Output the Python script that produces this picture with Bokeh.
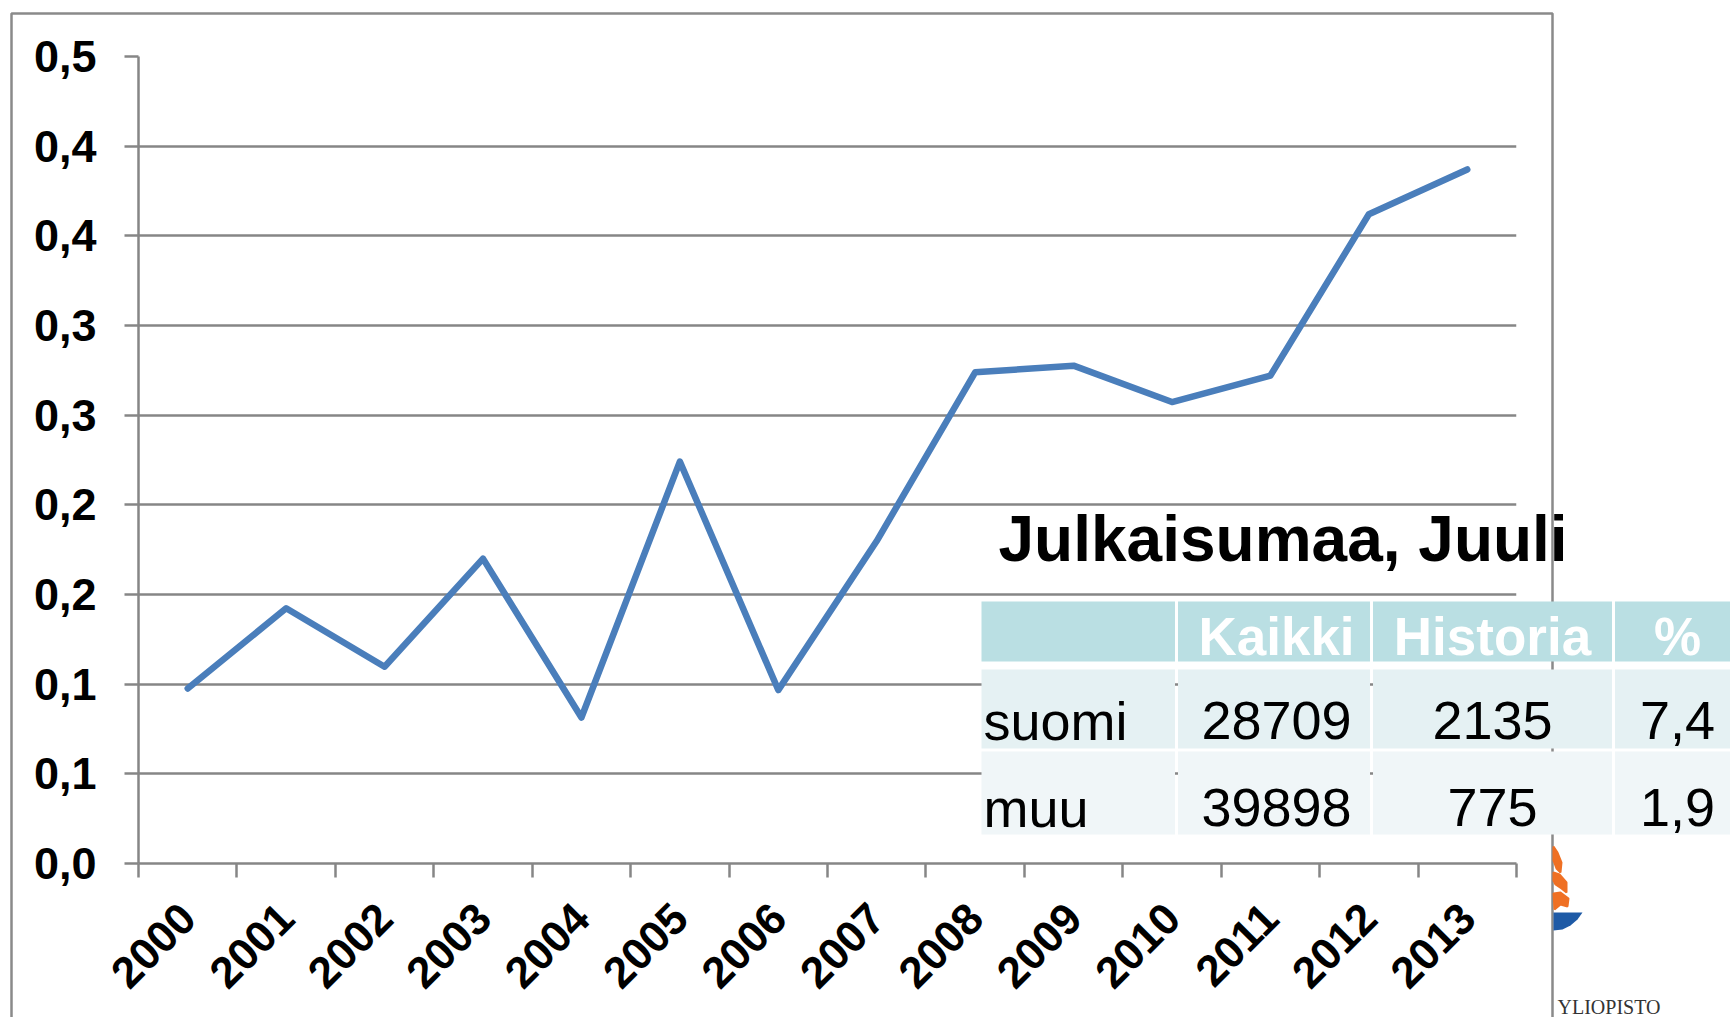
import math
from bokeh.plotting import figure
from bokeh.models import FixedTicker, Range1d
from bokeh.core.properties import value
from bokeh.embed import file_html
from bokeh.resources import INLINE

# ---- chart data ----
years = [2000, 2001, 2002, 2003, 2004, 2005, 2006, 2007, 2008, 2009, 2010, 2011, 2012, 2013]
values = [0.0976, 0.1423, 0.1097, 0.170, 0.0814, 0.2241, 0.0967, 0.1798,
          0.2739, 0.2776, 0.2573, 0.2721, 0.362, 0.387]
y_ticks = [0.0, 0.05, 0.10, 0.15, 0.20, 0.25, 0.30, 0.35, 0.40, 0.45]
y_tick_labels = ["0,0", "0,1", "0,1", "0,2", "0,2", "0,3", "0,3", "0,4", "0,4", "0,5"]
x_tick_labels = [str(y) for y in years]

# ---- overlay table data ----
table_title = "Julkaisumaa, Juuli"
table_header = ["", "Kaikki", "Historia", "%"]
table_rows = ["suomi", "muu"]
table_kaikki = ["28709", "39898"]
table_historia = ["2135", "775"]
table_pct = ["7,4", "1,9"]
logo_text = "YLIOPISTO"

FONT = "Liberation Sans"
GRAY = "#868686"
BLUE = "#4a7ebb"
W, H = 1730, 1017

# ================= main chart =================
p = figure(width=W, height=H, output_backend="svg", toolbar_location=None,
           x_range=Range1d(years[0] - 0.5, years[-1] + 0.5),
           y_range=Range1d(y_ticks[0], y_ticks[-1]),
           min_border_left=138, min_border_top=56, min_border_right=214, min_border_bottom=154)
p.outline_line_color = None
p.background_fill_color = "white"
p.border_fill_color = "white"

p.line(years, values, line_color=BLUE, line_width=6.5, line_cap="round", line_join="round")

p.yaxis.ticker = FixedTicker(ticks=y_ticks)
p.yaxis.major_label_overrides = {t: l for t, l in zip(y_ticks, y_tick_labels)}
p.yaxis.major_label_text_font = FONT
p.yaxis.major_label_text_font_style = "bold"
p.yaxis.major_label_text_font_size = "45px"
p.yaxis.major_label_text_color = "black"
p.yaxis.major_label_standoff = 28
p.yaxis.axis_line_color = GRAY
p.yaxis.axis_line_width = 2.5
p.yaxis.major_tick_line_color = GRAY
p.yaxis.major_tick_line_width = 2.5
p.yaxis.major_tick_out = 14
p.yaxis.major_tick_in = 0
p.yaxis.minor_tick_line_color = None
p.ygrid.ticker = FixedTicker(ticks=y_ticks)
p.ygrid.grid_line_color = GRAY
p.ygrid.grid_line_width = 2.5

bounds = [y - 0.5 for y in years] + [years[-1] + 0.5]
p.xaxis.ticker = FixedTicker(ticks=years, minor_ticks=bounds)
p.xaxis.major_label_overrides = {y: l for y, l in zip(years, x_tick_labels)}
p.xaxis.major_label_orientation = math.pi / 4
p.xaxis.major_label_text_font = FONT
p.xaxis.major_label_text_font_style = "bold"
p.xaxis.major_label_text_font_size = "44px"
p.xaxis.major_label_text_color = "black"
p.xaxis.major_label_standoff = 33
p.xaxis.axis_line_color = GRAY
p.xaxis.axis_line_width = 2.5
p.xaxis.major_tick_line_color = None
p.xaxis.major_tick_out = 14
p.xaxis.major_tick_in = 0
p.xaxis.minor_tick_line_color = GRAY
p.xaxis.minor_tick_line_width = 2.5
p.xaxis.minor_tick_out = 14
p.xaxis.minor_tick_in = 0
p.xgrid.grid_line_color = None

# ================= overlay (pixel space, y down), stacked on top =================
q = figure(width=W, height=H, output_backend="svg", toolbar_location=None,
           x_range=Range1d(0, W), y_range=Range1d(H, 0),
           x_axis_type=None, y_axis_type=None, min_border=0)
q.outline_line_color = None
q.background_fill_alpha = 0
q.border_fill_alpha = 0
q.grid.visible = False
q.styles = {"position": "absolute", "left": "0px", "top": "0px"}

# chart area border
q.line([11, 11, 1552, 1552], [H + 10, 13, 13, H + 10], line_color="#8a8a8a", line_width=2.5)

# table cells
col_edges = [981, 1176, 1371, 1613, 1745]
row_tops = [601, 669, 751]
row_bottoms = [661, 748, 834]
row_colors = ["#badfe3", "#e5f1f3", "#f0f6f8"]
lefts, rights, tops, bottoms, colors = [], [], [], [], []
for rt, rb, c in zip(row_tops, row_bottoms, row_colors):
    for i in range(4):
        lefts.append(col_edges[i] + (0 if i == 0 else 1.5))
        rights.append(col_edges[i + 1] - (1.5 if i < 3 else 0))
        tops.append(rt)
        bottoms.append(rb)
        colors.append(c)
q.quad(left=lefts, right=rights, top=tops, bottom=bottoms, fill_color=colors, line_color=None)

col_centers = [1276, 1492, 1677]
q.text(x=[998], y=[538], text=[table_title], text_font=value(FONT), text_font_style="bold",
       text_font_size="64px", text_color="black", text_baseline="alphabetic", text_align="left")
q.text(x=col_centers, y=[636] * 3, text=table_header[1:], text_font=value(FONT),
       text_font_style="bold", text_font_size="53px", text_color="white",
       text_baseline="alphabetic", text_align="center")
row_base = [720, 807]
q.text(x=[983, 983], y=row_base, text=table_rows, text_font=value(FONT), text_font_size="54px",
       text_color="black", text_baseline="alphabetic", text_align="left")
for r in range(2):
    q.text(x=col_centers, y=[row_base[r]] * 3,
           text=[table_kaikki[r], table_historia[r], table_pct[r]],
           text_font=value(FONT), text_font_size="54px", text_color="black",
           text_baseline="alphabetic", text_align="center")

# logo fragment at the right edge
q.patch([1553, 1582, 1577, 1570, 1562, 1553], [912, 912, 919, 925, 929, 930],
        fill_color="#1e5aa6", line_color=None)
q.patches([[1553, 1557, 1561, 1560, 1556, 1553], [1553, 1559, 1566, 1566, 1561, 1555, 1553],
           [1553, 1560, 1568, 1567, 1560, 1554]],
          [[846, 852, 862, 872, 868, 860], [872, 874, 882, 892, 888, 884, 880],
           [893, 892, 898, 906, 904, 909]],
          fill_color="#ef7024", line_color="#ef7024", line_width=2)
q.text(x=[1557], y=[1006], text=[logo_text], text_font=value("Liberation Serif"),
       text_font_size="20px", text_color="#333333", text_baseline="alphabetic", text_align="left")

open("out.html", "w").write(file_html([p, q], INLINE))
